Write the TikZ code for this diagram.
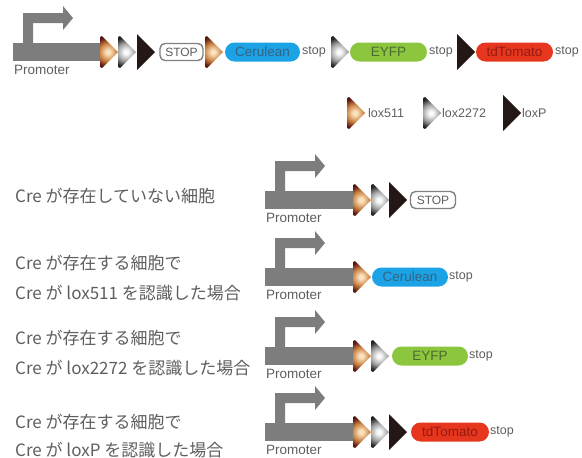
\documentclass[tikz,border=0pt]{standalone}
\usepackage{fontspec}
\setmainfont{Liberation Sans}
\newfontfamily\jpfont{Noto Sans CJK JP}
\definecolor{loxlight}{HTML}{FBE2BE}
\definecolor{loxmid}{HTML}{C98040}
\definecolor{loxdark}{HTML}{5A1610}
\definecolor{grlight}{HTML}{FAFAFA}
\definecolor{grmid}{HTML}{A0A0A0}
\definecolor{grdark}{HTML}{222222}
\definecolor{loxblack}{HTML}{231815}
\definecolor{promgray}{HTML}{7D7D7D}
\definecolor{textgray}{HTML}{5E5E5E}
\definecolor{stopgray}{HTML}{808080}
\definecolor{ceruleanfill}{HTML}{1CA3E6}
\definecolor{ceruleantext}{HTML}{35627F}
\definecolor{eyfpfill}{HTML}{8CC63F}
\definecolor{eyfptext}{HTML}{4C6A2E}
\definecolor{tomatofill}{HTML}{E6371E}
\definecolor{tomatotext}{HTML}{951B10}
\pgfdeclareradialshading{loxbrownshade}{\pgfpoint{0bp}{0bp}}{color(0bp)=(loxlight); color(3bp)=(loxlight); color(13bp)=(loxmid); color(22bp)=(loxdark); color(50bp)=(loxdark)}
\pgfdeclareradialshading{loxgrayshade}{\pgfpoint{0bp}{0bp}}{color(0bp)=(grlight); color(3bp)=(grlight); color(13bp)=(grmid); color(22bp)=(grdark); color(50bp)=(grdark)}
\tikzset{
  smalllabel/.style={text=textgray, inner sep=0pt, font=\fontsize{12.5}{14}\selectfont},
  promlabel/.style={text=textgray, inner sep=0pt, font=\fontsize{13.5}{15}\selectfont},
  jplabel/.style={text=textgray, inner sep=0pt, anchor=west, font=\jpfont\fontsize{17}{20}\selectfont},
  pill/.style={rectangle, rounded corners=9.5pt, minimum height=19pt, minimum width=76pt, inner sep=0pt, font=\fontsize{13.5}{15}\selectfont},
  cerulean/.style={pill, fill=ceruleanfill, text=ceruleantext},
  eyfp/.style={pill, fill=eyfpfill, text=eyfptext},
  tomato/.style={pill, fill=tomatofill, text=tomatotext},
  stopbox/.style={rectangle, draw=stopgray, line width=1.4pt, fill=white, rounded corners=5pt, minimum width=43pt, minimum height=17pt, inner sep=0pt, text=textgray, font=\fontsize{12}{13}\selectfont},
  stoptext/.style={smalllabel, anchor=west},
  loxbrown/.pic={
    \begin{scope}
      \clip (0,-18) -- (18,0) -- (0,18) -- cycle;
      \shade[shading=loxbrownshade] (8,0) circle (17);
    \end{scope}
    \coordinate (-tip) at (18,0);},
  loxgray/.pic={
    \begin{scope}
      \clip (0,-18) -- (18,0) -- (0,18) -- cycle;
      \shade[shading=loxgrayshade] (8,0) circle (17);
    \end{scope}
    \coordinate (-tip) at (18,0);},
  loxblack/.pic={\fill[loxblack] (0,-18) -- (18,0) -- (0,18) -- cycle; \coordinate (-tip) at (18,0);},
  promoter/.pic={
    \fill[promgray] (0,-9) rectangle (88,9);
    \fill[promgray] (10,-9) -- (10,-39) -- (50,-39) -- (50,-46) -- (60,-34) -- (50,-22) -- (50,-29) -- (20,-29) -- (20,-9) -- cycle;
    \node[promlabel, anchor=west] (-label) at (1,18) {Promoter};
    \coordinate (-end) at (88,0);
  }
}
\begin{document}
\begin{tikzpicture}[x=1pt,y=-1pt]
\useasboundingbox (0,0) rectangle (582,458);
% top construct
\pic (pA) at (13,52) {promoter};
\pic (tA1) at (100,52) {loxbrown};
\pic (tA2) at (118,52) {loxgray};
\pic (tA3) at (137,52) {loxblack};
\node[stopbox] (sA) at (181.5,52) {STOP};
\pic (tA4) at (205,52) {loxbrown};
\node[cerulean, minimum width=75pt] (cA) at (262.5,52) {Cerulean};
\node[stoptext] (xA1) at (302,52) {stop};
\pic (tA5) at (331,52) {loxgray};
\node[eyfp, minimum width=77pt] (eA) at (388.5,52) {EYFP};
\node[stoptext] (xA2) at (429,52) {stop};
\pic (tA6) at (457,52) {loxblack};
\node[tomato, minimum width=77pt] (dA) at (514.5,52) {tdTomato};
\node[stoptext] (xA3) at (555,52) {stop};
% legend
\pic (lg1) at (347,113) {loxbrown};
\node[stoptext] (lgt1) at (368,113) {lox511};
\pic (lg2) at (423,113) {loxgray};
\node[stoptext] (lgt2) at (442,113) {lox2272};
\pic (lg3) at (503,113) {loxblack};
\node[stoptext] (lgt3) at (522,113) {loxP};
% row 2: no Cre
\node[jplabel] (j1) at (15,196) {Cre が存在していない細胞};
\pic (pB) at (265,200) {promoter};
\pic (tB1) at (353,200) {loxbrown};
\pic (tB2) at (371,200) {loxgray};
\pic (tB3) at (389,200) {loxblack};
\node[stopbox, minimum width=45pt] (sB) at (433,200) {STOP};
% row 3: lox511
\node[jplabel] (j2a) at (15,263) {Cre が存在する細胞で};
\node[jplabel] (j2b) at (15,293) {Cre が lox511 を認識した場合};
\pic (pC) at (265,277) {promoter};
\pic (tC1) at (353,277) {loxbrown};
\node[cerulean] (cC) at (410,277) {Cerulean};
\node[stoptext] (xC) at (449,277) {stop};
% row 4: lox2272
\node[jplabel] (j3a) at (15,338) {Cre が存在する細胞で};
\node[jplabel] (j3b) at (15,368) {Cre が lox2272 を認識した場合};
\pic (pD) at (265,356) {promoter};
\pic (tD1) at (353,356) {loxbrown};
\pic (tD2) at (371,356) {loxgray};
\node[eyfp] (eD) at (430,356) {EYFP};
\node[stoptext] (xD) at (469,356) {stop};
% row 5: loxP
\node[jplabel] (j4a) at (15,422) {Cre が存在する細胞で};
\node[jplabel] (j4b) at (15,450) {Cre が loxP を認識した場合};
\pic (pE) at (265,432) {promoter};
\pic (tE1) at (353,432) {loxbrown};
\pic (tE2) at (371,432) {loxgray};
\pic (tE3) at (389,432) {loxblack};
\node[tomato, minimum width=78pt] (dE) at (450,432) {tdTomato};
\node[stoptext] (xE) at (490,432) {stop};
\end{tikzpicture}
\end{document}
